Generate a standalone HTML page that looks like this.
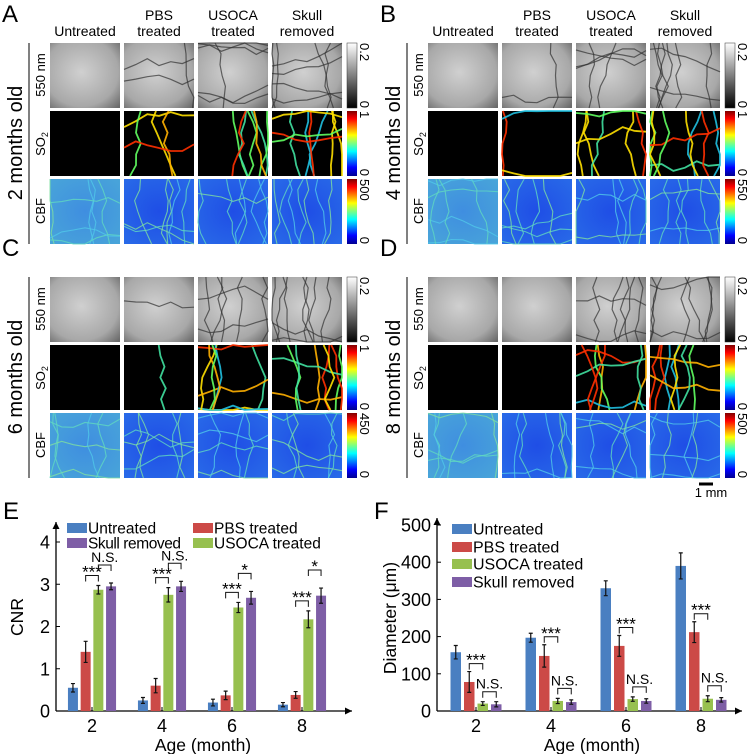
<!DOCTYPE html>
<html><head><meta charset="utf-8"><style>
body{margin:0;background:#fff}
svg{display:block;font-family:"Liberation Sans",sans-serif}
</style></head><body>
<svg id="fig" width="748" height="754" viewBox="0 0 748 754" xmlns="http://www.w3.org/2000/svg">
<defs>
<linearGradient id="gray" x1="0" y1="0" x2="0" y2="1"><stop offset="0" stop-color="#fff"/><stop offset="1" stop-color="#000"/></linearGradient>
<linearGradient id="jet" x1="0" y1="0" x2="0" y2="1"><stop offset="0" stop-color="#800000"/><stop offset="0.12" stop-color="#f00"/><stop offset="0.37" stop-color="#ff0"/><stop offset="0.62" stop-color="#0ff"/><stop offset="0.87" stop-color="#00f"/><stop offset="1" stop-color="#000090"/></linearGradient>
<radialGradient id="g550" cx="0.45" cy="0.45" r="0.75"><stop offset="0" stop-color="#d0d0d0"/><stop offset="0.7" stop-color="#a8a8a8"/><stop offset="1" stop-color="#6a6a6a"/></radialGradient>
<radialGradient id="cbf" cx="0.5" cy="0.5" r="0.8"><stop offset="0" stop-color="#1f4ee6"/><stop offset="1" stop-color="#2a6ee8"/></radialGradient>
<radialGradient id="cbfL" cx="0.5" cy="0.5" r="0.8"><stop offset="0" stop-color="#3f8ee0"/><stop offset="1" stop-color="#4aa8d8"/></radialGradient>
</defs>
<g id="panels"></g>
<g id="chartE"></g>
<g id="chartF"></g>
</svg>
<script>
// ---- chart E data ----
const ageCats = ["2","4","6","8"];
const seriesNames = ["Untreated","PBS treated","USOCA treated","Skull removed"];
const cnrUntreated = [0.55,0.25,0.2,0.15];
const cnrPBS = [1.4,0.6,0.37,0.38];
const cnrUSOCA = [2.87,2.75,2.45,2.17];
const cnrSkull = [2.95,2.95,2.68,2.73];
const cnrErrUntreated = [0.1,0.07,0.08,0.05];
const cnrErrPBS = [0.25,0.17,0.1,0.08];
const cnrErrUSOCA = [0.1,0.17,0.12,0.2];
const cnrErrSkull = [0.08,0.12,0.15,0.18];
const cnrTicks = [0,1,2,3,4];
const cnrSigLeft = ["***","***","***","***"];
const cnrSigRight = ["N.S.","N.S.","*","*"];
// ---- chart F data ----
const diaUntreated = [158,197,330,390];
const diaPBS = [78,148,175,212];
const diaUSOCA = [20,27,32,33];
const diaSkull = [18,24,27,30];
const diaErrUntreated = [18,12,20,35];
const diaErrPBS = [28,30,28,28];
const diaErrUSOCA = [5,7,6,8];
const diaErrSkull = [7,6,6,6];
const diaTicks = [0,100,200,300,400,500];
const colors = ["#4a7fc1","#cc4a47","#97c04f","#7e5ea6"];

const NS="http://www.w3.org/2000/svg";
function el(tag,attrs,parent,text){const e=document.createElementNS(NS,tag);for(const k in attrs)e.setAttribute(k,attrs[k]);if(text!==undefined)e.textContent=text;parent.appendChild(e);return e;}

// ---------- image panels ----------
const P=document.getElementById('panels');
let seed=7;function rnd(){seed=(seed*16807)%2147483647;return seed/2147483647;}
const panelDefs=[
 {L:"A",ox:0,oy:0,age:"2 months old",cb:"500",so2:[0,0.5,0.8,1],g:[0,0.3,0.7,0.9],cbfL:[1,0,0,0]},
 {L:"B",ox:378,oy:0,age:"4 months old",cb:"550",so2:[0,0.3,0.8,1],g:[0,0.2,0.6,0.9],cbfL:[1,0,0,0]},
 {L:"C",ox:0,oy:234,age:"6 months old",cb:"450",so2:[0,0.15,1,1],g:[0,0.1,0.8,1],cbfL:[1,0,0,0]},
 {L:"D",ox:378,oy:234,age:"8 months old",cb:"500",so2:[0,0,1,1],g:[0,0,0.8,0.9],cbfL:[1,0,0,0]}];
const colsX=[50,124,198,272], rowsY=[43,111,179], W=70, H=65;
const vesselCols=["#ff3000","#ffb000","#40e0a0","#20c0e0","#ffe000","#60ff60"];
function vessels(g,x,y,n,col,w,op){
  for(let i=0;i<n;i++){
    let px=x+rnd()*W, py=y, d="M"+px.toFixed(1)+" "+py;
    const horiz=rnd()<0.35; if(horiz){px=x;py=y+rnd()*H;d="M"+px+" "+py.toFixed(1);}
    for(let s=0;s<6;s++){ if(horiz){px+=W/6;py+= (rnd()-0.5)*14;}else{py+=H/6;px+=(rnd()-0.5)*12;}
      px=Math.max(x,Math.min(x+W,px));py=Math.max(y,Math.min(y+H,py));d+=" L"+px.toFixed(1)+" "+py.toFixed(1);}
    const c=typeof col==="function"?col():col;
    const p=el('path',{d:d,fill:"none",stroke:c,"stroke-width":w,opacity:op},g);
    
    
  }
}
panelDefs.forEach((pd,pi)=>{
  const g=el('g',{},P);
  
  
  el('text',{x:pd.ox+2,y:pd.oy+22,"font-size":24},g,pd.L);
  if(pd.oy===0){
    const t1=[["","Untreated"],["PBS","treated"],["USOCA","treated"],["Skull","removed"]];
    t1.forEach((t,i)=>{const cx=pd.ox+colsX[i]+35;
      if(t[0])el('text',{x:cx,y:20,"font-size":14,"text-anchor":"middle"},g,t[0]);
      el('text',{x:cx,y:36,"font-size":14,"text-anchor":"middle"},g,t[1]);});
  }
  el('text',{transform:`translate(${pd.ox+22},${pd.oy+143}) rotate(-90)`,"font-size":20,"text-anchor":"middle"},g,pd.age);
  el('line',{x1:pd.ox+29,y1:pd.oy+43,x2:pd.ox+29,y2:pd.oy+244,stroke:"#000","stroke-width":1},g);
  el('text',{transform:`translate(${pd.ox+45},${pd.oy+75}) rotate(-90)`,"font-size":13,"text-anchor":"middle"},g,"550 nm");
  const so=el('text',{transform:`translate(${pd.ox+45},${pd.oy+144}) rotate(-90)`,"font-size":13,"text-anchor":"middle"},g);
  so.appendChild(document.createTextNode("SO"));el('tspan',{"font-size":9,dy:3},so,"2");
  el('text',{transform:`translate(${pd.ox+45},${pd.oy+211}) rotate(-90)`,"font-size":13,"text-anchor":"middle"},g,"CBF");
  for(let c=0;c<4;c++){
    const x=pd.ox+colsX[c];
    let y=pd.oy+rowsY[0];
    el('rect',{x:x,y:y,width:W,height:H,fill:"url(#g550)"},g);
    vessels(g,x,y,Math.round(pd.g[c]*9),"#303030",1.2,0.7);
    y=pd.oy+rowsY[1];
    el('rect',{x:x,y:y,width:W,height:H,fill:"#000"},g);
    vessels(g,x,y,Math.round(pd.so2[c]*9),()=>vesselCols[Math.floor(rnd()*vesselCols.length)],1.8,0.9);
    y=pd.oy+rowsY[2];
    el('rect',{x:x,y:y,width:W,height:H,fill:pd.cbfL[c]?"url(#cbfL)":"url(#cbf)"},g);
    vessels(g,x,y,7,()=>["#50c8e8","#60d8c0","#80e0a0"][Math.floor(rnd()*3)],1.1,0.8);
  }
  const bx=pd.ox+347;
  el('rect',{x:bx,y:pd.oy+43,width:10,height:65,fill:"url(#gray)",stroke:"#333","stroke-width":0.5},g);
  el('rect',{x:bx,y:pd.oy+111,width:10,height:65,fill:"url(#jet)"},g);
  el('rect',{x:bx,y:pd.oy+179,width:10,height:65,fill:"url(#jet)"},g);
  const lab=(t,yy,anchor)=>el('text',{transform:`translate(${bx+13},${yy}) rotate(90)`,"font-size":13,"text-anchor":anchor},g,t);
  lab("0.2",pd.oy+43,"start");lab("0",pd.oy+108,"end");lab("1",pd.oy+111,"start");
  lab("0",pd.oy+176,"end");lab(pd.cb,pd.oy+179,"start");lab("0",pd.oy+244,"end");
});
el('line',{x1:699,y1:484,x2:713,y2:484,stroke:"#000","stroke-width":3},P);
el('text',{x:711,y:497,"font-size":13,"text-anchor":"middle"},P,"1 mm");

// ---------- bar chart helper ----------
function barChart(gid,o){
  const G=document.getElementById(gid);
  el('text',{x:o.lx,y:o.ly,"font-size":24},G,o.letter);
  const yS=v=>o.y0-(v-0)*o.ppu;
  const xS=(i,s)=>o.c0+i*o.step+(s-1.5)*o.bstep;
  el('line',{x1:o.x0,y1:o.y0,x2:o.x0,y2:o.ytop,stroke:"#000","stroke-width":1.3},G);
  el('path',{d:`M${o.x0-3.5} ${o.ytop+7} L${o.x0} ${o.ytop} L${o.x0+3.5} ${o.ytop+7}Z`},G);
  el('line',{x1:o.x0,y1:o.y0,x2:o.xend,y2:o.y0,stroke:"#000","stroke-width":1.3},G);
  el('path',{d:`M${o.xend-7} ${o.y0-3.5} L${o.xend} ${o.y0} L${o.xend-7} ${o.y0+3.5}Z`},G);
  o.ticks.forEach(t=>{const yy=yS(t);
    el('line',{x1:o.x0,y1:yy,x2:o.x0+4,y2:yy,stroke:"#000"},G);
    const tl=el('text',{x:o.x0-6,y:yy+6.5,"font-size":18,"text-anchor":"end"},G,String(t));
    });
  ageCats.forEach((c,i)=>{const cx=o.c0+i*o.step;
    el('line',{x1:cx,y1:o.y0,x2:cx,y2:o.y0-4,stroke:"#000"},G);
    const tl=el('text',{x:cx,y:o.y0+21,"font-size":18,"text-anchor":"middle"},G,c);
    });
  const xt=el('text',{x:o.xtx,y:o.y0+40,"font-size":17.5,"text-anchor":"middle"},G,"Age (month)");
  
  const yt=el('text',{transform:`translate(${o.ytx},${o.yty}) rotate(-90)`,"font-size":17.5,"text-anchor":"middle"},G,o.ytitle);
  
  o.series.forEach((vals,s)=>{vals.forEach((v,i)=>{
    const x=xS(i,s);
    const r=el('rect',{x:x-o.bw/2,y:yS(v),width:o.bw,height:o.y0-yS(v),fill:colors[s]},G);
    
    
    const e=o.errs[s][i];
    el('path',{d:`M${x} ${yS(v-e)} V${yS(v+e)} M${x-2} ${yS(v-e)} H${x+2} M${x-2} ${yS(v+e)} H${x+2}`,stroke:"#111","stroke-width":1.2,fill:"none"},G);
  });});
  o.sig.forEach(b=>{ageCats.forEach((c,i)=>{
    const xa=xS(i,b.a), xb=xS(i,b.b);
    const top=Math.max(...b.refs.map(k=>o.series[k][i]+o.errs[k][i]));
    const yy=yS(top)-b.gap;
    el('path',{d:`M${xa} ${yy+6} V${yy} H${xb} V${yy+6}`,stroke:"#111","stroke-width":1,fill:"none"},G);
    const star=b.lab[i].startsWith("*");
    const t=el('text',{x:(xa+xb)/2,y:star?yy+2:yy-3,"font-size":star?17:14,"text-anchor":"middle"},G,b.lab[i]);
    
  });});
  o.legend.forEach(l=>{
    const g=el('g',{},G);
    
    
    el('rect',{x:l.x,y:l.y-5,width:20,height:10,fill:colors[l.s]},g);
    const t=el('text',{x:l.x+21,y:l.y+5.5,"font-size":o.lfs},g,seriesNames[l.s]);
    if(l.tl)t.setAttribute('textLength',l.tl);
  });
}
barChart('chartE',{letter:"E",lx:3,ly:519,x0:56,y0:711,ytop:522,xend:352,ppu:42.25,c0:92,step:70,bstep:12.7,bw:10,lfs:15.5,
  ticks:cnrTicks,series:[cnrUntreated,cnrPBS,cnrUSOCA,cnrSkull],errs:[cnrErrUntreated,cnrErrPBS,cnrErrUSOCA,cnrErrSkull],
  ytitle:"CNR",ytx:23,yty:617,xtx:203,
  sig:[{a:1,b:2,refs:[1,2],gap:10,lab:cnrSigLeft},{a:2,b:3,refs:[2,3],gap:18,lab:cnrSigRight}],
  legend:[{s:0,x:67,y:528},{s:1,x:193,y:528},{s:3,x:67,y:543,tl:93},{s:2,x:193,y:543}]});
barChart('chartF',{letter:"F",lx:374,ly:519,x0:437,y0:711,ytop:518,xend:742,ppu:0.372,c0:476,step:75,bstep:13.5,bw:10.5,lfs:16,
  ticks:diaTicks,series:[diaUntreated,diaPBS,diaUSOCA,diaSkull],errs:[diaErrUntreated,diaErrPBS,diaErrUSOCA,diaErrSkull],
  ytitle:"Diameter (\u03bcm)",ytx:396,yty:618,xtx:592,
  sig:[{a:1,b:2,refs:[1],gap:8,lab:["***","***","***","***"]},{a:2,b:3,refs:[2,3],gap:10,lab:["N.S.","N.S.","N.S.","N.S."]}],
  legend:[{s:0,x:452,y:529},{s:1,x:452,y:547},{s:2,x:452,y:564},{s:3,x:452,y:582}]});
</script>
</body></html>
